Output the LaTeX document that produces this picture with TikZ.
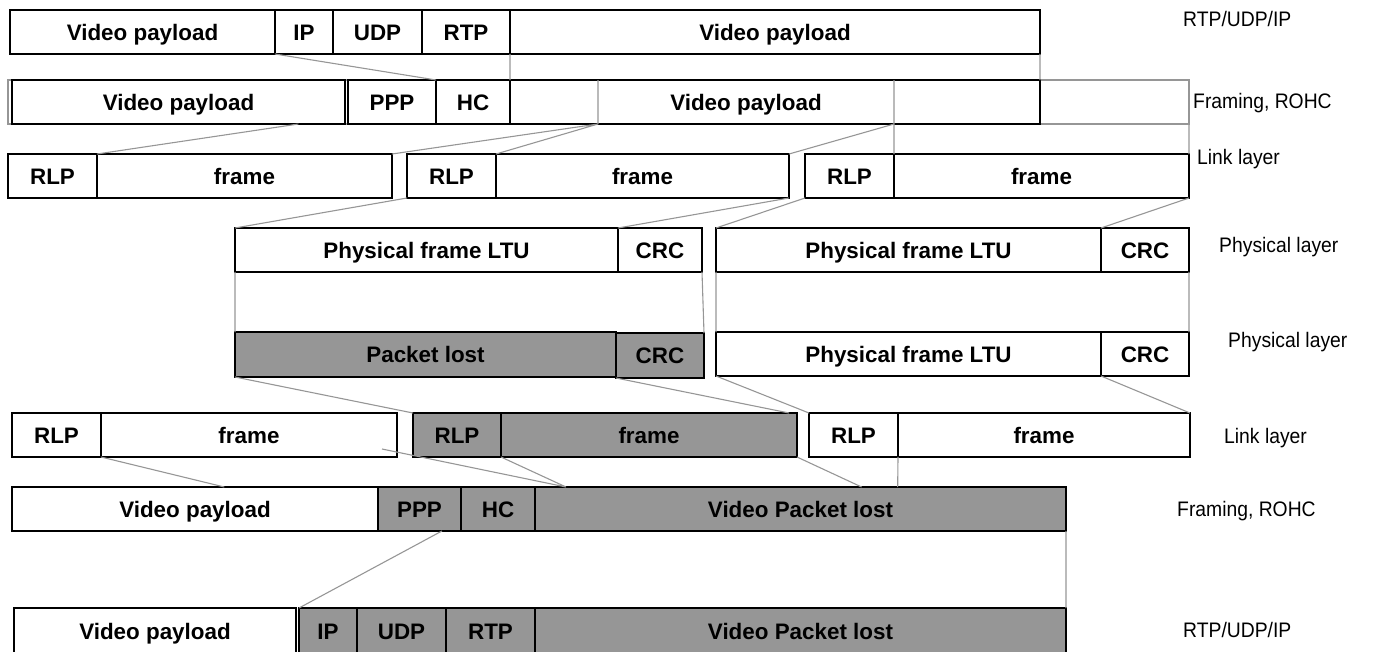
\documentclass[tikz,border=0pt]{standalone}
\usepackage{fontspec}
\setmainfont{Liberation Sans}
\newfontfamily\labelfont[FakeStretch=0.92]{Liberation Sans}
\usetikzlibrary{calc}
\definecolor{lostfill}{RGB}{150,150,150}
\definecolor{linkgray}{RGB}{150,150,150}
% \cellbox{style}{name}{x1}{y1}{x2}{y2}{text}: a box given by its corners
\newcommand\cellbox[7]{\node[#1,anchor=north west,minimum width={#5-#3},minimum height={#6-#4}] (#2) at (#3,#4) {#7};}

\begin{document}
\begin{tikzpicture}[x=1pt,y=-1pt,
  cell/.style={draw=black,line width=1.2pt,fill=white,inner sep=0pt,outer sep=0pt,
               font=\bfseries\fontsize{22.4}{24}\selectfont,text height=16pt,text depth=0pt},
  lost/.style={cell,fill=lostfill},
  ghost/.style={draw=linkgray,line width=1.1pt,inner sep=0pt,outer sep=0pt},
  bare/.style={inner sep=0pt,outer sep=0pt,font=\bfseries\fontsize{22.4}{24}\selectfont,
               text height=16pt,text depth=0pt},
  conn/.style={draw=linkgray,line width=1.1pt},
  layer/.style={anchor=west,inner sep=0pt,font=\labelfont\fontsize{21}{23}\selectfont,
                text height=15pt,text depth=0pt}]
\useasboundingbox (0,0) rectangle (1394,651);

% RTP/UDP/IP packet
\cellbox{cell}{vpa1}{10}{10}{275}{54}{Video payload}
\cellbox{cell}{ip1}{275}{10}{333}{54}{IP}
\cellbox{cell}{udp1}{333}{10}{422}{54}{UDP}
\cellbox{cell}{rtp1}{422}{10}{510}{54}{RTP}
\cellbox{cell}{vpb1}{510}{10}{1040}{54}{Video payload}

% framing with header compression
\cellbox{ghost}{span2}{8}{80}{1189}{124}{}
\cellbox{cell}{vpa2}{12}{80}{345}{124}{Video payload}
\cellbox{cell}{ppp2}{348}{80}{436}{124}{PPP}
\cellbox{cell}{hc2}{436}{80}{510}{124}{HC}
\cellbox{cell}{body2}{510}{80}{1040}{124}{}
\cellbox{bare}{vpb2}{598}{80}{894}{124}{Video payload}

% link layer frames
\cellbox{cell}{rlp3a}{8}{154}{97}{198}{RLP}
\cellbox{cell}{fr3a}{97}{154}{392}{198}{frame}
\cellbox{cell}{rlp3b}{407}{154}{496}{198}{RLP}
\cellbox{cell}{fr3b}{496}{154}{789}{198}{frame}
\cellbox{cell}{rlp3c}{805}{154}{894}{198}{RLP}
\cellbox{cell}{fr3c}{894}{154}{1189}{198}{frame}

% physical layer, sent
\cellbox{cell}{pf4a}{235}{228}{618}{272}{Physical frame LTU}
\cellbox{cell}{crc4a}{618}{228}{702}{272}{CRC}
\cellbox{cell}{pf4b}{716}{228}{1101}{272}{Physical frame LTU}
\cellbox{cell}{crc4b}{1101}{228}{1189}{272}{CRC}

% physical layer, received
\cellbox{lost}{pl5}{235}{332}{616}{377}{Packet lost}
\cellbox{lost}{crc5a}{616}{333}{704}{378}{CRC}
\cellbox{cell}{pf5b}{716}{332}{1101}{376}{Physical frame LTU}
\cellbox{cell}{crc5b}{1101}{332}{1189}{376}{CRC}

% link layer, received
\cellbox{cell}{rlp6a}{12}{413}{101}{457}{RLP}
\cellbox{cell}{fr6a}{101}{413}{397}{457}{frame}
\cellbox{lost}{rlp6b}{413}{413}{501}{457}{RLP}
\cellbox{lost}{fr6b}{501}{413}{797}{457}{frame}
\cellbox{cell}{rlp6c}{809}{413}{898}{457}{RLP}
\cellbox{cell}{fr6c}{898}{413}{1190}{457}{frame}

% framing, received
\cellbox{cell}{vp7}{12}{487}{378}{531}{Video payload}
\cellbox{lost}{ppp7}{378}{487}{461}{531}{PPP}
\cellbox{lost}{hc7}{461}{487}{535}{531}{HC}
\cellbox{lost}{vpl7}{535}{487}{1066}{531}{Video Packet lost}

% RTP/UDP/IP, received
\cellbox{cell}{vp8}{14}{608}{296}{654}{Video payload}
\cellbox{lost}{ip8}{299}{608}{357}{654}{IP}
\cellbox{lost}{udp8}{357}{608}{446}{654}{UDP}
\cellbox{lost}{rtp8}{446}{608}{535}{654}{RTP}
\cellbox{lost}{vpl8}{535}{608}{1066}{654}{Video Packet lost}

% layer names
\node[layer] (l1) at (1183,19) {RTP/UDP/IP};
\node[layer] (l2) at (1193,101) {Framing, ROHC};
\node[layer] (l3) at (1197,157) {Link layer};
\node[layer] (l4) at (1219,245) {Physical layer};
\node[layer] (l5) at (1228,340) {Physical layer};
\node[layer] (l6) at (1224,436) {Link layer};
\node[layer] (l7) at (1177,509) {Framing, ROHC};
\node[layer] (l8) at (1183,630) {RTP/UDP/IP};

% mapping lines between layers
\coordinate (stray) at (382,449);
\coordinate (join7) at (566,487);
\path[conn]
  (ip1.south west) -- (hc2.north west)
  (rtp1.south east) -- (hc2.north east)
  (vpb1.south east) -- (body2.north east)
  (vpb2.north west) -- (vpb2.south west)
  (vpb2.north east) -- (fr3c.north west)
  (span2.south east) -- (fr3c.north east)
  ($(vpa2.south west)!0.86!(vpa2.south east)$) -- (rlp3a.north east)
  (vpb2.south west) -- (fr3a.north east)
  (vpb2.south west) -- (rlp3b.north east)
  (vpb2.south east) -- (fr3b.north east)
  (rlp3b.south west) -- (pf4a.north west)
  (fr3b.south east) -- (crc4a.north west)
  (rlp3c.south west) -- (pf4b.north west)
  (fr3c.south east) -- (crc4b.north west)
  (pf4a.south west) -- (pl5.north west)
  (crc4a.south east) -- (crc5a.north east)
  (pf4b.south west) -- (pf5b.north west)
  (crc4b.south east) -- (crc5b.north east)
  (pl5.south west) -- (rlp6b.north west)
  (crc5a.south west) -- ($(fr6b.north east)+(-8,0)$)
  (pf5b.south west) -- (rlp6c.north west)
  (crc5b.south west) -- (fr6c.north east)
  (rlp6a.south east) -- ($(vp7.north west)!0.58!(vp7.north east)$)
  (stray) -- (join7)
  (rlp6b.south east) -- (join7)
  (fr6b.south east) -- ($(vpl7.north west)!0.615!(vpl7.north east)$)
  (rlp6c.south east) -- ($(vpl7.north west)!0.683!(vpl7.north east)$)
  ($(ppp7.south west)!0.77!(ppp7.south east)$) -- (ip8.north west)
  (vpl7.south east) -- (vpl8.north east);
\end{tikzpicture}
\end{document}
